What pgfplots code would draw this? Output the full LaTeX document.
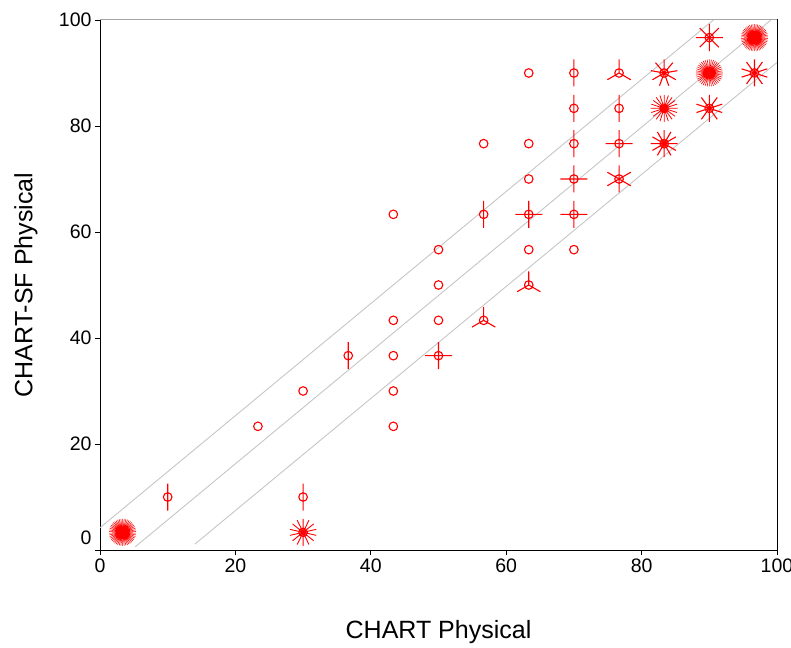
\documentclass[border=0pt]{standalone}
\usepackage{fontspec}
\setmainfont{Liberation Sans}
\usepackage{pgfplots}
\pgfplotsset{compat=1.18}
\newcount\sfk
\newcommand\defsf[1]{%
  \pgfdeclareplotmark{sf#1}{%
    \ifnum#1>1
      \sfk=1
      \loop
        \pgfmathsetmacro\ang{90+(360/#1)*\the\sfk}%
        \pgfpathmoveto{\pgfpointorigin}%
        \pgfpathlineto{\pgfpointpolar{\ang}{13.5pt}}%
        \advance\sfk by 1
      \ifnum\sfk<#1 \repeat
      \pgfmathsetmacro\ang{90+(360/#1)*#1}%
      \pgfpathmoveto{\pgfpointorigin}%
      \pgfpathlineto{\pgfpointpolar{\ang}{13.5pt}}%
    \fi
    \pgfpathcircle{\pgfpointorigin}{4.3pt}%
    \pgfusepathqstroke}}
\defsf{1}\defsf{2}\defsf{3}\defsf{4}\defsf{6}\defsf{8}\defsf{9}\defsf{10}
\defsf{12}\defsf{14}\defsf{20}\defsf{40}\defsf{50}
\pgfplotsset{sf/.style={only marks, color=red, mark=sf#1, mark options={draw=red, line width=1.1pt}}}
\begin{document}
\begin{tikzpicture}
\begin{axis}[name=ax, scale only axis, width=677pt, height=530pt,
  xmin=0, xmax=100, ymin=0, ymax=100,
  xtick={0,20,...,100}, ytick={20,40,...,100},
  extra y ticks={0}, extra y tick style={yticklabel style={yshift=12pt}},
  tick align=outside, major tick length=5pt,
  xtick pos=left, ytick pos=left,
  tick style={black, line width=0.8pt},
  axis line style={black, line width=1pt},
  ticklabel style={font=\fontsize{19.5}{20}\selectfont},
  /pgf/number format/assume math mode=true,
  xlabel={CHART Physical}, ylabel={CHART-SF Physical},
  label style={font=\fontsize{25}{26}\selectfont},
  xlabel style={at={(axis description cs:0.5,0)}, anchor=base, yshift=-88pt},
  ylabel style={at={(axis description cs:-0.1,0.5)}, anchor=base},
]
% one observation
\addplot[sf=1] coordinates {(23.33,23.33) (30,30) (43.33,23.33) (43.33,30) (43.33,36.67)
  (43.33,43.33) (43.33,63.33) (50,43.33) (50,50) (50,56.67) (56.67,76.67) (63.33,56.67)
  (63.33,70) (63.33,76.67) (63.33,90) (70,56.67)};
% two
\addplot[sf=2] coordinates {(10,10) (30,10) (36.67,36.67) (56.67,63.33) (70,76.67)
  (70,83.33) (70,90) (76.67,83.33)};
% three
\addplot[sf=3] coordinates {(56.67,43.33) (63.33,50) (76.67,90)};
% four
\addplot[sf=4] coordinates {(50,36.67) (63.33,63.33) (70,63.33) (70,70) (76.67,76.67)};
% six and more
\addplot[sf=6] coordinates {(76.67,70)};
\addplot[sf=8] coordinates {(90,96.67)};
\addplot[sf=9] coordinates {(83.33,90)};
\addplot[sf=10] coordinates {(90,83.33) (96.67,90)};
\addplot[sf=12] coordinates {(83.33,76.67)};
\addplot[sf=14, mark options={line width=0.9pt}] coordinates {(30,3.33)};
\addplot[sf=20, mark options={line width=0.8pt}] coordinates {(83.33,83.33)};
\addplot[sf=40, mark options={line width=0.6pt}] coordinates {(90,90)};
\addplot[sf=50, mark options={line width=0.55pt}] coordinates {(3.33,3.33) (96.67,96.67)};
% reference lines
\addplot[gray!45, line width=0.9pt] coordinates {(0,4.2) (90.6,100)};
\addplot[gray!45, line width=0.9pt] coordinates {(5.2,0.6) (99.1,100)};
\addplot[gray!45, line width=0.9pt] coordinates {(14,1.1) (100,92)};
\end{axis}
\draw[gray!70, line width=1pt] (ax.north west) -- (ax.north east);
\pgfresetboundingbox
\path[use as bounding box] ([shift={(-100pt,-97pt)}]ax.south west) rectangle ([shift={(14pt,20pt)}]ax.north east);
\end{tikzpicture}
\end{document}
